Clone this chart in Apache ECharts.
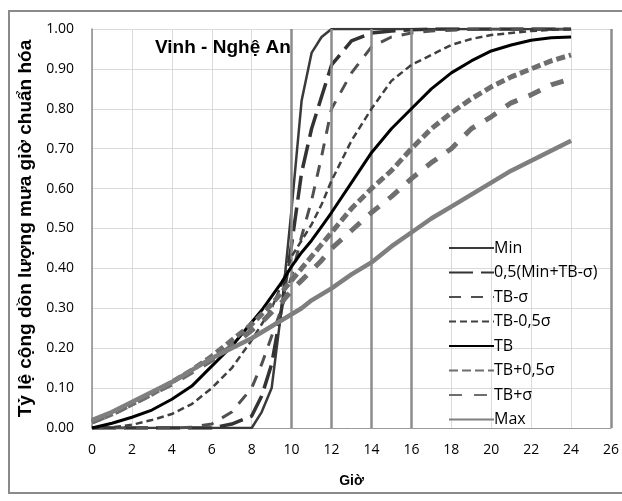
<!DOCTYPE html>
<html>
<head>
<meta charset="utf-8">
<script src="https://cdn.jsdelivr.net/npm/echarts@6/dist/echarts.min.js"></script>
<style>html,body{margin:0;padding:0;background:#fff}#c{width:622px;height:501px}</style>
</head>
<body>
<div id="c"></div>
<script>
// Hours (x values)
var hours = [0,1,2,3,4,5,6,7,8,8.5,9,9.5,10,10.5,11,11.5,12,13,14,15,16,17,18,19,20,21,22,23,24];
var seriesNames = ['Min','0,5(Min+TB-σ)','TB-σ','TB-0,5σ','TB','TB+0,5σ','TB+σ','Max'];
var vMin      = [0,0,0,0,0,0,0,0,0, 0.04,0.10,0.30,0.55,0.82,0.94,0.98,1.00, 1,1,1,1,1,1,1,1,1,1,1,1];
var vHalfMin  = [0,0,0,0,0,0,0,0.01,0.03, 0.08,0.16,0.30,0.46,0.64,0.75,0.83,0.91, 0.97,0.99,0.995,0.998,1,1,1,1,1,1,1,1];
var vTBm1     = [0,0,0,0,0,0.002,0.01,0.04,0.10, 0.16,0.23,0.30,0.38,0.48,0.57,0.68,0.80, 0.89,0.955,0.98,0.99,0.995,0.997,0.999,1,1,1,1,1];
var vTBm05    = [0,0.002,0.008,0.02,0.035,0.06,0.10,0.15,0.22, 0.26,0.30,0.36,0.43,0.47,0.51,0.56,0.62, 0.72,0.80,0.87,0.91,0.935,0.96,0.975,0.985,0.99,0.995,0.998,1];
var vTB       = [0,0.012,0.027,0.045,0.072,0.105,0.155,0.205,0.265, 0.295,0.33,0.365,0.405,0.44,0.47,0.505,0.54, 0.615,0.69,0.75,0.80,0.85,0.89,0.92,0.945,0.96,0.972,0.978,0.98];
var vTBp05    = [0.015,0.035,0.06,0.085,0.115,0.145,0.18,0.22,0.26, 0.285,0.31,0.34,0.37,0.40,0.43,0.46,0.49, 0.55,0.60,0.645,0.70,0.75,0.79,0.825,0.855,0.88,0.90,0.92,0.935];
var vTBp1     = [0.015,0.035,0.06,0.085,0.11,0.14,0.17,0.205,0.245, 0.265,0.29,0.315,0.345,0.37,0.395,0.42,0.45, 0.495,0.54,0.58,0.625,0.665,0.70,0.75,0.78,0.815,0.835,0.86,0.875];
var vMax      = [0.02,0.04,0.065,0.09,0.115,0.145,0.175,0.20,0.225, 0.24,0.255,0.27,0.285,0.30,0.32,0.335,0.35, 0.385,0.415,0.455,0.49,0.525,0.555,0.585,0.615,0.645,0.67,0.695,0.72];
var refHours = [10,12,14,16,26];

function pairs(v){ return hours.map(function(h,i){ return [h, v[i]]; }); }

var styles = [
  {color:'#3a3a3a', width:2.5, type:'solid'},
  {color:'#333333', width:3.5, type:[24,8]},
  {color:'#505050', width:3, type:[12,10]},
  {color:'#404040', width:2.5, type:[7,4]},
  {color:'#000000', width:3, type:'solid'},
  {color:'#6e6e6e', width:5, type:[9,4]},
  {color:'#6e6e6e', width:5, type:[13,12]},
  {color:'#7f7f7f', width:4.5, type:'solid'}
];
var values = [vMin, vHalfMin, vTBm1, vTBm05, vTB, vTBp05, vTBp1, vMax];

var series = [{
  name:'ref', type:'line', data:[], silent:true, z:1,
  markLine:{silent:true, symbol:'none', label:{show:false},
    lineStyle:{color:'#8c8c8c', width:2.5, type:'solid'},
    data: refHours.map(function(h){ return {xAxis:h}; })}
}];
seriesNames.forEach(function(n,i){
  series.push({
    name:n, type:'line', data:pairs(values[i]), symbol:'none', showSymbol:false,
    z:2+i, lineStyle:{color:styles[i].color, width:styles[i].width, type:styles[i].type, cap:'butt'},
    itemStyle:{color:styles[i].color}
  });
});

var chart = echarts.init(document.getElementById('c'), null, {renderer:'canvas'});
chart.setOption({
  animation:false,
  backgroundColor:'#ffffff',
  title:{text:'Vinh - Nghệ An', left:155, top:38, padding:0,
    textStyle:{fontFamily:'Liberation Sans', fontWeight:'bold', fontSize:19, color:'#000'}},
  graphic:[{type:'rect', shape:{x:9, y:11, width:700, height:482},
    style:{fill:'none', stroke:'#8a8a8a', lineWidth:2}, silent:true, z:0}],
  legend:{orient:'vertical', left:443, top:235, itemWidth:45, itemHeight:14, itemGap:8.5,
    data:seriesNames, itemStyle:{opacity:0},
    textStyle:{fontFamily:'Open Sans', fontSize:16, color:'#000', padding:[0,0,0,-5]}},
  grid:{left:92, right:6, top:29, bottom:73, containLabel:false},
  xAxis:{type:'value', min:0, max:26, interval:2,
    name:'Giờ', nameLocation:'middle', nameGap:46,
    nameTextStyle:{fontFamily:'Liberation Sans', fontWeight:'bold', fontSize:14, color:'#000'},
    axisLine:{show:true, lineStyle:{color:'#9a9a9a', width:1}},
    axisTick:{show:false},
    axisLabel:{fontFamily:'Open Sans', fontSize:14, color:'#000', margin:15},
    splitLine:{show:true, lineStyle:{color:'#dadada', width:1}}},
  yAxis:{type:'value', min:0, max:1, interval:0.1,
    name:'Tỷ lệ cộng dồn lượng mưa giờ chuẩn hóa', nameLocation:'middle', nameGap:54, nameRotate:90,
    nameTextStyle:{fontFamily:'Liberation Sans', fontWeight:'bold', fontSize:19, color:'#000'},
    axisLine:{show:true, lineStyle:{color:'#8a8a8a', width:1.5}},
    axisTick:{show:false},
    axisLabel:{fontFamily:'Open Sans', fontSize:14, color:'#000', margin:18,
      formatter:function(v){ return v.toFixed(2); }},
    splitLine:{show:true, lineStyle:{color:'#dadada', width:1}}},
  series:series
});
</script>
</body>
</html>
